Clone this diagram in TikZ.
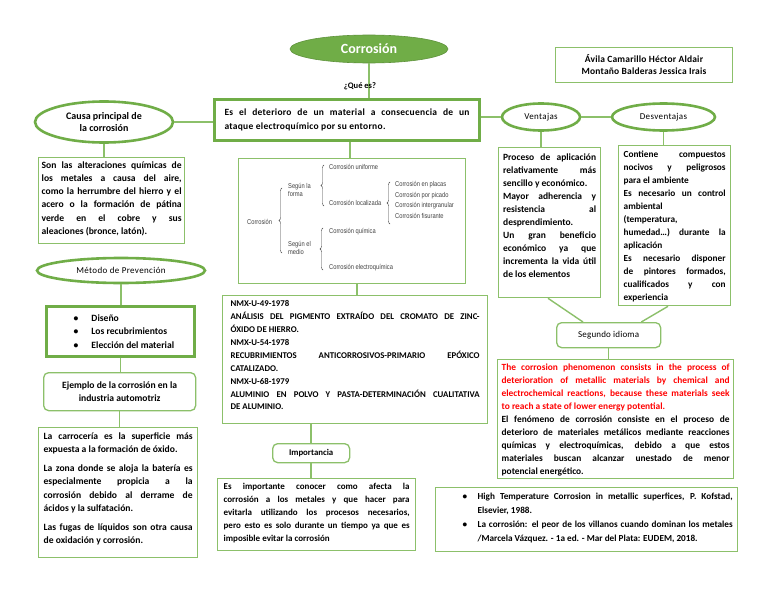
\documentclass[tikz,border=0pt]{standalone}
\usepackage{fontspec}
\setmainfont{Carlito}
\newfontfamily\narrowfont[FakeStretch=0.82]{Liberation Sans}
\usetikzlibrary{shapes.geometric,decorations.pathreplacing}
\definecolor{gr}{HTML}{70AD47}
\definecolor{lgr}{HTML}{8CC06A}
\definecolor{dgray}{HTML}{404040}
\hyphenpenalty=10000
\tolerance=9999
\emergencystretch=2em
\hbadness=10000
\hfuzz=20pt
\newcommand\tb[3]{\parbox[t][#2][t]{#1}{#3}}
\newcommand\cb[2]{\parbox{#1}{#2}}
\newcommand\bitem[3]{\par\hangindent=#2\hangafter=1\noindent\hbox to #2{\hspace{#1}\textbullet\hfil}#3}
\begin{document}
\begin{tikzpicture}[x=1pt,y=-1pt,
  conn/.style={draw=lgr,line width=1.4pt},
  oval/.style={ellipse,draw=gr,line width=2.6pt,fill=white,inner sep=0pt,align=center},
  tbox/.style={draw=lgr,line width=1.3pt,inner sep=0pt,anchor=north west,fill=white},
  thbox/.style={draw=gr,line width=3pt,inner sep=0pt,anchor=north west,fill=white},
  rbox/.style={draw=lgr,line width=1.3pt,rounded corners=5pt,inner sep=0pt,anchor=north west,align=center,fill=white},
  txt/.style={font=\bfseries\fontsize{9.5}{13}\selectfont},
  ttl/.style={font=\fontsize{9}{11}\selectfont\addfontfeature{LetterSpace=4}},
  diag/.style={font=\narrowfont\fontsize{7}{8.5}\selectfont,text=dgray,inner sep=0pt,anchor=west,align=left},
  brc/.style={draw=dgray,line width=0.4pt,decorate,decoration={brace,amplitude=3pt}}
]
\fill[white] (0,0) rectangle (768,594);
\useasboundingbox (0,0) rectangle (768,594);

% title and authors
\node[ellipse,fill=gr,draw=gr!85!black,line width=0.6pt,minimum width=158pt,minimum height=28pt,inner sep=0pt,text=white,font=\bfseries\fontsize{14}{16}\selectfont] (title) at (369,49) {Corrosión};
\node[tbox,line width=1pt,minimum width=177pt,minimum height=35pt,align=center,font=\bfseries\fontsize{9.5}{12}\selectfont\addfontfeature{LetterSpace=2}] (auth) at (555,47) {Ávila Camarillo Héctor Aldair\\Montaño Balderas Jessica Irais};

% definition
\node[thbox,minimum width=265pt,minimum height=41pt,font=\bfseries\fontsize{9.5}{13.5}\selectfont\addfontfeature{LetterSpace=3}] (def) at (213,98) {\cb{245pt}{Es el deterioro de un material a consecuencia de un\linebreak ataque electroquímico por su entorno.}};

% left column
\node[oval,minimum width=138pt,minimum height=41pt,font=\bfseries\fontsize{10}{12.5}\selectfont] (causa) at (104,122) {Causa principal de\\la corrosión};
\node[tbox,minimum width=146pt,minimum height=86pt,font=\bfseries\fontsize{9.6}{13.2}\selectfont] (causat) at (38,157) {\tb{140pt}{78pt}{Son las alteraciones químicas de\linebreak los metales a causa del aire,\linebreak como la herrumbre del hierro y el\linebreak acero o la formación de pátina\linebreak verde en el cobre y sus\linebreak aleaciones (bronce, latón).}};

\node[oval,minimum width=168pt,minimum height=25pt,ttl] (met) at (121,270.5) {Método de Prevención};
\node[thbox,minimum width=148pt,minimum height=50pt,font=\bfseries\fontsize{9.6}{13.5}\selectfont] (metb) at (45,305) {\cb{138pt}{\bitem{22pt}{40pt}{Diseño}\par\bitem{22pt}{40pt}{Los recubrimientos}\par\bitem{22pt}{40pt}{Elección del material}}};
\node[rbox,minimum width=152pt,minimum height=38pt,font=\bfseries\fontsize{9.6}{13.5}\selectfont] (ej) at (43,372) {Ejemplo de la corrosión en la\\industria automotriz};
\node[tbox,minimum width=159pt,minimum height=130pt,font=\bfseries\fontsize{9.6}{13.5}\selectfont] (ejt) at (38,427) {\tb{149pt}{120pt}{La carrocería es la superficie más\linebreak expuesta a la formación de óxido.\par\vspace{5pt}La zona donde se aloja la batería es\linebreak especialmente propicia a la\linebreak corrosión debido al derrame de\linebreak ácidos y la sulfatación.\par\vspace{5pt}Las fugas de líquidos son otra causa\linebreak de oxidación y corrosión.}};

% centre column
\node[tbox,minimum width=227pt,minimum height=125pt] (dg) at (238,158) {};
\node[diag] (dC) at (247,222) {Corrosión};
\node[diag] (dF) at (288,190) {Según la\\forma};
\node[diag] (dM) at (288,248) {Según el\\medio};
\node[diag] (dU) at (329,167) {Corrosión uniforme};
\node[diag] (dL) at (329,203) {Corrosión localizada};
\node[diag] (dP1) at (395,185) {Corrosión en placas};
\node[diag] (dP2) at (395,195.3) {Corrosión por picado};
\node[diag] (dP3) at (395,205.6) {Corrosión intergranular};
\node[diag] (dP4) at (395,216) {Corrosión fisurante};
\node[diag] (dQ) at (329,232) {Corrosión química};
\node[diag] (dE) at (329,268) {Corrosión electroquímica};
\draw[brc] (282,253) -- (282,188);
\draw[brc] (324,206) -- (324,165);
\draw[brc] (390,224) -- (390,182);
\draw[brc] (323,270) -- (323,228);

\node[tbox,minimum width=265pt,minimum height=128pt,font=\bfseries\fontsize{8.8}{12.9}\selectfont] (nmx) at (222,295) {\tb{249pt}{118pt}{NMX-U-49-1978\par
ANÁLISIS DEL PIGMENTO EXTRAÍDO DEL CROMATO DE ZINC-\linebreak ÓXIDO DE HIERRO.\par
NMX-U-54-1978\par
RECUBRIMIENTOS ANTICORROSIVOS-PRIMARIO EPÓXICO\linebreak CATALIZADO.\par
NMX-U-68-1979\par
ALUMINIO EN POLVO Y PASTA-DETERMINACIÓN CUALITATIVA\linebreak DE ALUMINIO.}};
\node[rbox,minimum width=77pt,minimum height=19pt,font=\bfseries\fontsize{8.8}{10}\selectfont] (imp) at (272,443) {Importancia};
\node[tbox,minimum width=198pt,minimum height=72pt,font=\bfseries\fontsize{9}{13}\selectfont] (impt) at (217,478) {\tb{186pt}{62pt}{Es importante conocer como afecta la\linebreak corrosión a los metales y que hacer para\linebreak evitarla utilizando los procesos necesarios,\linebreak pero esto es solo durante un tiempo ya que es\linebreak imposible evitar la corrosión}};

% right column
\node[oval,minimum width=78pt,minimum height=27pt,ttl] (ven) at (541,117) {Ventajas};
\node[oval,minimum width=103pt,minimum height=27pt,ttl] (desv) at (663.5,117) {Desventajas};
\node[tbox,minimum width=102pt,minimum height=150pt,txt] (vent) at (498,147) {\tb{93pt}{138pt}{Proceso de aplicación\linebreak relativamente más\linebreak sencillo y económico.\par Mayor adherencia y\linebreak resistencia al\linebreak desprendimiento.\par Un gran beneficio\linebreak económico ya que\linebreak incrementa la vida útil\linebreak de los elementos}};
\node[tbox,minimum width=112pt,minimum height=160pt,font=\bfseries\fontsize{9.3}{13}\selectfont] (desvt) at (618,145) {\tb{102pt}{150pt}{Contiene compuestos\linebreak nocivos y peligrosos\linebreak para el ambiente\par Es necesario un control\linebreak ambiental\linebreak (temperatura,\linebreak humedad…) durante la\linebreak aplicación\par Es necesario disponer\linebreak de pintores formados,\linebreak cualificados y con\linebreak experiencia}};
\node[rbox,minimum width=104pt,minimum height=25pt,font=\fontsize{9}{11}\selectfont\addfontfeature{LetterSpace=2}] (seg) at (556,322) {Segundo idioma};
\node[tbox,minimum width=236pt,minimum height=119pt,font=\bfseries\fontsize{9.4}{13}\selectfont] (segt) at (497,359) {\tb{228pt}{111pt}{\color{red}The corrosion phenomenon consists in the process of\linebreak deterioration of metallic materials by chemical and\linebreak electrochemical reactions, because these materials seek\linebreak to reach a state of lower energy potential.\par\color{black}El fenómeno de corrosión consiste en el proceso de\linebreak deterioro de materiales metálicos mediante reacciones\linebreak químicas y electroquímicas, debido a que estos\linebreak materiales buscan alcanzar unestado de menor\linebreak potencial energético.}};
\node[tbox,minimum width=302pt,minimum height=64pt,font=\bfseries\fontsize{9.2}{14}\selectfont] (refs) at (435,487) {\tb{292pt}{54pt}{\bitem{22pt}{37pt}{High Temperature Corrosion in metallic superfices, P. Kofstad,\linebreak Elsevier, 1988.}\par\bitem{22pt}{37pt}{La corrosión: el peor de los villanos cuando dominan los metales\linebreak /Marcela Vázquez. - 1a ed. - Mar del Plata: EUDEM, 2018.}}};

% connectors
\draw[conn] (title.south) -- (title.south |- def.north);
\node[font=\bfseries\fontsize{8.5}{10}\selectfont,inner sep=0pt] (que) at (360,86) {¿Qué es?};
\draw[conn] (causa.east) -- (causa.east -| def.west);
\draw[conn] (ven.west -| def.east) -- (ven.west);
\draw[conn] (ven.east) -- (desv.west);
\draw[conn] (causa.south) -- (causa.south |- causat.north);
\draw[conn] (ven.south) -- (ven.south |- vent.north);
\draw[conn] (desv.south) -- (desv.south |- desvt.north);
\coordinate (v1) at ([xshift=50pt]vent.south west);
\coordinate (v2) at ([xshift=27pt]seg.north west);
\coordinate (w1) at ([xshift=50pt]desvt.south west);
\coordinate (w2) at ([xshift=-20pt]seg.north east);
\draw[conn] (v1) -- (v2);
\draw[conn] (w1) -- (w2);
\draw[conn] (seg.south) -- (seg.south |- segt.north);
\coordinate (d1) at ([xshift=137pt]def.south west);
\draw[conn] (d1) -- (d1 |- dg.north);
\coordinate (g1) at ([xshift=119pt]dg.south west);
\draw[conn] (g1) -- (g1 |- nmx.north);
\draw[conn] (imp.north |- nmx.south) -- (imp.north);
\draw[conn] (imp.south) -- (imp.south |- impt.north);
\draw[conn] (met.south) -- (met.south |- metb.north);
\draw[conn] (metb.south) -- (metb.south |- ej.north);
\draw[conn] (ej.south) -- (ej.south |- ejt.north);
\end{tikzpicture}
\end{document}
